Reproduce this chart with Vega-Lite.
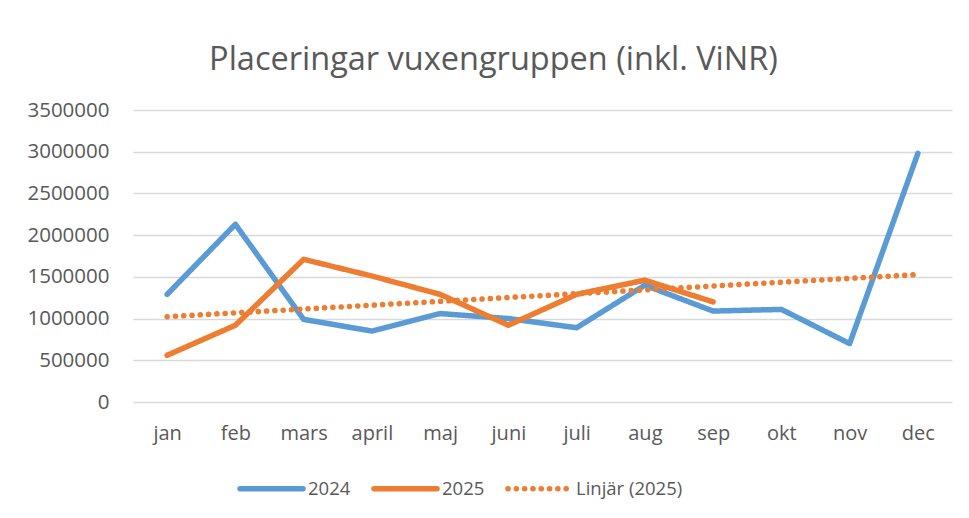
{
  "$schema": "https://vega.github.io/schema/vega-lite/v6.json",
  "width": 819,
  "height": 292,
  "autosize": {"type": "none"},
  "padding": {"left": 133, "top": 110, "right": 17, "bottom": 116},
  "background": "white",
  "config": {
    "font": "Open Sans",
    "view": {"stroke": null}
  },
  "title": {
    "text": "Placeringar vuxengruppen (inkl. ViNR)",
    "fontSize": 32.5,
    "fontWeight": "normal",
    "color": "#595959",
    "anchor": "middle",
    "frame": "group",
    "dx": -49,
    "offset": 24
  },
  "data": {
    "values": [
      {"series": "2024", "month": "jan", "value": 1290000},
      {"series": "2024", "month": "feb", "value": 2130000},
      {"series": "2024", "month": "mars", "value": 990000},
      {"series": "2024", "month": "april", "value": 850000},
      {"series": "2024", "month": "maj", "value": 1060000},
      {"series": "2024", "month": "juni", "value": 1000000},
      {"series": "2024", "month": "juli", "value": 890000},
      {"series": "2024", "month": "aug", "value": 1400000},
      {"series": "2024", "month": "sep", "value": 1090000},
      {"series": "2024", "month": "okt", "value": 1110000},
      {"series": "2024", "month": "nov", "value": 700000},
      {"series": "2024", "month": "dec", "value": 2980000},
      {"series": "2025", "month": "jan", "value": 560000},
      {"series": "2025", "month": "feb", "value": 920000},
      {"series": "2025", "month": "mars", "value": 1710000},
      {"series": "2025", "month": "april", "value": 1510000},
      {"series": "2025", "month": "maj", "value": 1290000},
      {"series": "2025", "month": "juni", "value": 920000},
      {"series": "2025", "month": "juli", "value": 1290000},
      {"series": "2025", "month": "aug", "value": 1460000},
      {"series": "2025", "month": "sep", "value": 1200000},
      {"series": "Linjär (2025)", "month": "jan", "value": 1023000},
      {"series": "Linjär (2025)", "month": "dec", "value": 1528000}
    ]
  },
  "mark": {"type": "line", "strokeCap": "round", "strokeJoin": "round"},
  "encoding": {
    "x": {
      "field": "month",
      "type": "ordinal",
      "sort": ["jan", "feb", "mars", "april", "maj", "juni", "juli", "aug", "sep", "okt", "nov", "dec"],
      "scale": {"type": "point", "padding": 0.5},
      "axis": {
        "title": null,
        "labelAngle": 0,
        "labelFontSize": 20,
        "labelColor": "#595959",
        "labelPadding": 21,
        "ticks": false,
        "domain": false,
        "grid": false
      }
    },
    "y": {
      "field": "value",
      "type": "quantitative",
      "scale": {"domain": [0, 3500000], "nice": false},
      "axis": {
        "title": null,
        "values": [0, 500000, 1000000, 1500000, 2000000, 2500000, 3000000, 3500000],
        "format": "d",
        "labelFontSize": 20.5,
        "labelColor": "#595959",
        "labelPadding": 24,
        "ticks": false,
        "domain": false,
        "grid": true,
        "gridColor": "#D9D9D9",
        "gridWidth": 1.5
      }
    },
    "color": {
      "field": "series",
      "type": "nominal",
      "scale": {"domain": ["2024", "2025", "Linjär (2025)"], "range": ["#5B9BD5", "#ED7D31", "#ED7D31"]},
      "legend": {
        "title": null,
        "orient": "none",
        "direction": "horizontal",
        "legendX": 104,
        "legendY": 344,
        "symbolType": "stroke",
        "symbolSize": 3969,
        "labelFontSize": 18.5,
        "labelColor": "#595959",
        "labelOffset": 2,
        "columnPadding": 12,
        "encode": {"symbols": {"update": {"strokeCap": {"value": "round"}}}}
      }
    },
    "strokeDash": {
      "field": "series",
      "type": "nominal",
      "scale": {"domain": ["2024", "2025", "Linjär (2025)"], "range": [[1, 0], [1, 0], [0.1, 8.2]]},
      "legend": {
        "title": null,
        "orient": "none",
        "direction": "horizontal",
        "legendX": 104,
        "legendY": 344,
        "symbolType": "stroke",
        "symbolSize": 3969,
        "labelFontSize": 18.5,
        "labelColor": "#595959",
        "labelOffset": 2,
        "columnPadding": 12,
        "encode": {"symbols": {"update": {"strokeCap": {"value": "round"}}}}
      }
    },
    "strokeWidth": {
      "field": "series",
      "type": "nominal",
      "scale": {"domain": ["2024", "2025", "Linjär (2025)"], "range": [5.5, 5.5, 3]},
      "legend": {
        "title": null,
        "orient": "none",
        "direction": "horizontal",
        "legendX": 104,
        "legendY": 344,
        "symbolType": "stroke",
        "symbolSize": 3969,
        "labelFontSize": 18.5,
        "labelColor": "#595959",
        "labelOffset": 2,
        "columnPadding": 12,
        "encode": {"symbols": {"update": {"strokeCap": {"value": "round"}}}}
      }
    }
  }
}
